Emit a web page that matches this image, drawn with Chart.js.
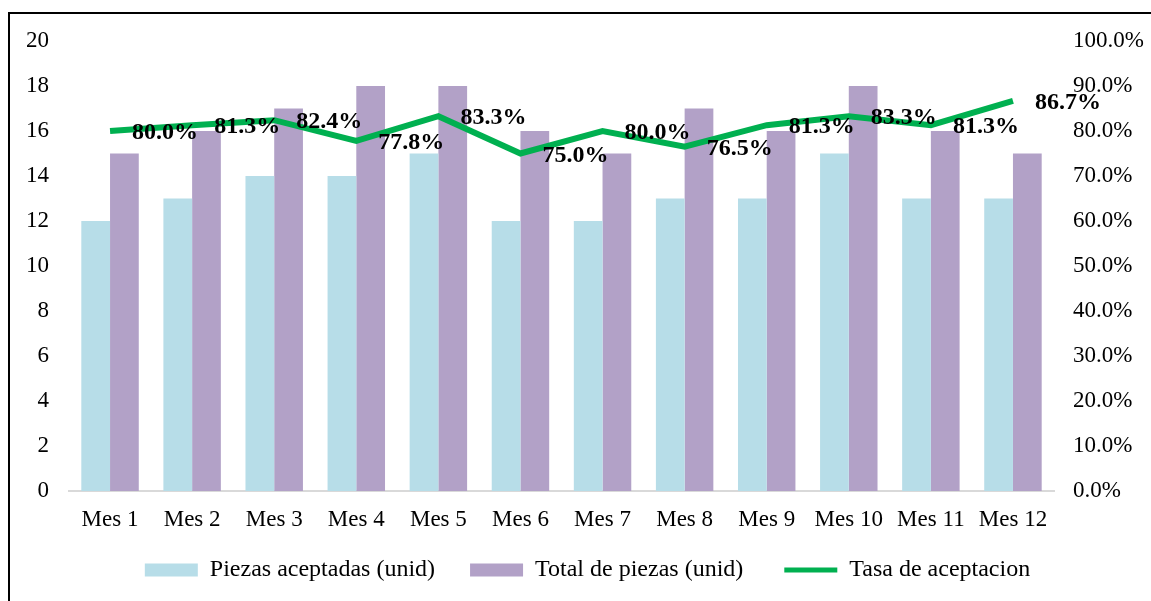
<!DOCTYPE html>
<html>
<head>
<meta charset="utf-8">
<script src="https://cdn.jsdelivr.net/npm/chart.js@4/dist/chart.umd.min.js"></script>
<style>
    html, body { margin: 0; padding: 0; background: #fff; overflow: hidden; }
    #wrap { position: relative; width: 1151px; height: 601px; }
    #frame {
        position: absolute; left: 8px; top: 12px; width: 2000px; height: 2000px;
        border-left: 2px solid #000; border-top: 2px solid #000;
    }
    canvas { position: absolute; left: 0; top: 0; }
</style>
</head>
<body>
<div id="wrap">
    <div id="frame"></div>
    <canvas id="chart" width="1151" height="601"></canvas>
</div>
<script>
const months = ["Mes 1", "Mes 2", "Mes 3", "Mes 4", "Mes 5", "Mes 6", "Mes 7", "Mes 8", "Mes 9", "Mes 10", "Mes 11", "Mes 12"];
const acceptedPieces = [12, 13, 14, 14, 15, 12, 12, 13, 13, 15, 13, 13];
const totalPieces = [15, 16, 17, 18, 18, 16, 15, 17, 16, 18, 16, 15];
const acceptanceRate = [80.0, 81.3, 82.4, 77.8, 83.3, 75.0, 80.0, 76.5, 81.3, 83.3, 81.3, 86.7];

const FONT = "'Liberation Serif', 'Times New Roman', serif";
const BLUE = "#B7DDE8";
const PURPLE = "#B2A1C7";
const GREEN = "#00B050";

// extra room after each legend entry (the legend padding is kept small so the x labels fit)
const legendGaps = ["\u2002", "\u2002 ", ""];

Chart.defaults.font.family = FONT;
Chart.defaults.color = "#000";

// labels to the right of each line point
const rateLabels = {
    id: "rateLabels",
    afterDatasetsDraw(chart) {
        const meta = chart.getDatasetMeta(2);
        const ctx = chart.ctx;
        ctx.save();
        ctx.font = "bold 24px " + FONT;
        ctx.fillStyle = "#000";
        ctx.textAlign = "left";
        ctx.textBaseline = "middle";
        meta.data.forEach((pt, i) => {
            ctx.fillText(acceptanceRate[i].toFixed(1) + "%", pt.x + 22, pt.y + 2);
        });
        ctx.restore();
    },
};

const ctx = document.getElementById("chart").getContext("2d");

new Chart(ctx, {
    type: "bar",
    data: {
        labels: months,
        datasets: [
            {
                label: "Piezas aceptadas (unid)",
                data: acceptedPieces,
                backgroundColor: BLUE,
                yAxisID: "y",
                order: 2,
            },
            {
                label: "Total de piezas (unid)",
                data: totalPieces,
                backgroundColor: PURPLE,
                yAxisID: "y",
                order: 2,
            },
            {
                type: "line",
                label: "Tasa de aceptacion",
                data: acceptanceRate,
                borderColor: GREEN,
                backgroundColor: GREEN,
                borderWidth: 6,
                pointRadius: 0,
                tension: 0,
                yAxisID: "y1",
                order: 1,
            },
        ],
    },
    options: {
        responsive: false,
        animation: false,
        layout: { padding: { top: 41, bottom: 9, left: 24, right: 0 } },
        datasets: {
            bar: { categoryPercentage: 0.7, barPercentage: 1 },
        },
        plugins: {
            tooltip: { enabled: false },
            legend: {
                position: "bottom",
                labels: {
                    font: { size: 24 },
                    usePointStyle: true,
                    pointStyleWidth: 53,
                    boxHeight: 13,
                    padding: 23,
                    generateLabels(chart) {
                        return chart.data.datasets.map((ds, i) => {
                            const isLine = ds.type === "line";
                            return {
                                text: ds.label + legendGaps[i],
                                fillStyle: isLine ? "rgba(0,0,0,0)" : ds.backgroundColor,
                                strokeStyle: isLine ? GREEN : ds.backgroundColor,
                                lineWidth: isLine ? 5 : 0,
                                pointStyle: isLine ? "line" : "rect",
                                datasetIndex: i,
                                fontColor: "#000",
                            };
                        });
                    },
                },
            },
        },
        scales: {
            x: {
                grid: { display: false, drawTicks: false },
                border: { display: true, color: "#D9D9D9", width: 2 },
                ticks: { font: { size: 23 }, padding: 15, maxRotation: 0 },
                afterFit(scale) { scale.height = 44; },
            },
            y: {
                position: "left",
                min: 0,
                max: 20,
                grid: { display: false, drawTicks: false },
                border: { display: false },
                ticks: { stepSize: 2, font: { size: 23 }, padding: 20 },
                afterFit(scale) { scale.width = 45; },
            },
            y1: {
                position: "right",
                min: 0,
                max: 100,
                grid: { display: false, drawTicks: false },
                border: { display: false },
                ticks: {
                    stepSize: 10,
                    font: { size: 23 },
                    padding: 19,
                    callback: (v) => v.toFixed(1) + "%",
                },
                afterFit(scale) { scale.width = 97; },
            },
        },
    },
    plugins: [rateLabels],
});
</script>
</body>
</html>
